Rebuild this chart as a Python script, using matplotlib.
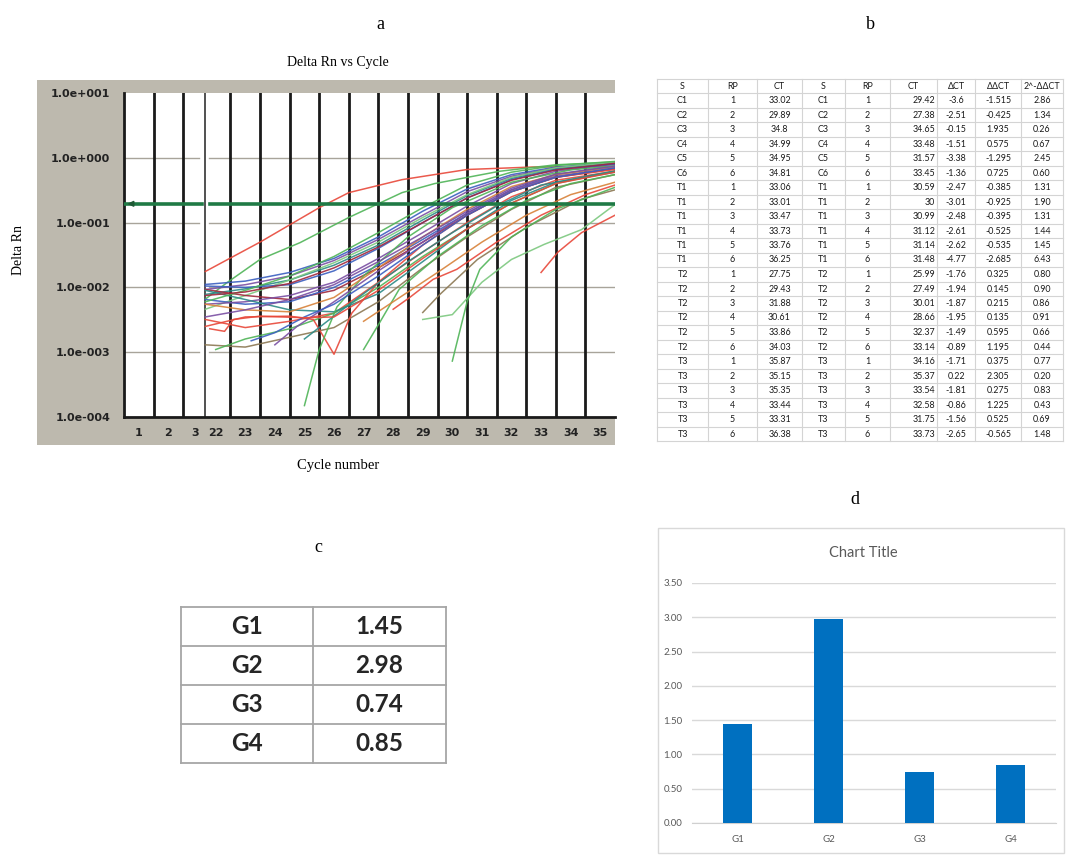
import matplotlib
matplotlib.use("Agg")
import matplotlib.pyplot as plt
from matplotlib.patches import Rectangle

W, H = 1068, 857

# ---------------- Panel a: amplification plot data ----------------
x_tick_labels = ['1', '2', '3', '22', '23', '24', '25', '26', '27', '28', '29',
                 '30', '31', '32', '33', '34', '35']
y_tick_values = [1e-4, 1e-3, 1e-2, 1e-1, 1e0, 1e1]
y_tick_labels = ['1.0e-004', '1.0e-003', '1.0e-002', '1.0e-001', '1.0e+000', '1.0e+001']
threshold = 0.195

std_cycles = [21.65, 23, 24.5, 26, 27.5, 29, 30.5, 32, 33.5, 35.5]

curve_cycles = [
    [21.65, 23.5, 25.5, 26.5, 28.3, 30.5, 32.7, 35.5],
    [21.65, 22.4, 23.5, 24.85, 26.5, 28.3, 29.4, 31.6, 33.5, 35.5],
    std_cycles, std_cycles, std_cycles, std_cycles, std_cycles, std_cycles,
    std_cycles, std_cycles, std_cycles,
    [22.0, 23, 24.5, 26, 27.5, 29, 30.5, 32, 33.5, 35.5],
    std_cycles,
    [21.65, 23, 24.5, 25.3, 26, 26.6, 27.5, 29, 30.5, 32, 33.5, 35.5],
    [25.0, 25.5, 26.1, 27, 28.5, 30, 32, 34, 35.5],
    [27.0, 27.55, 28.2, 29.5, 31, 32.5, 34, 35.5],
    [28.0, 28.56, 29.35, 30.15, 31.5, 33, 34.5, 35.5],
    [29.0, 29.58, 30.85, 32.55, 34.37, 35.5],
    [29.0, 30.0, 31.0, 32.0, 33.1, 34.37, 35.5],
    [30.0, 30.5, 30.93, 32, 33.5, 35.5],
    [33.0, 33.57, 34.37, 35.5],
    [24.0, 24.75, 26, 27.5, 29, 30.5, 32, 33.5, 35.5],
    [25.0, 25.85, 27, 28.5, 30, 31.5, 33, 35.5],
    std_cycles, std_cycles, std_cycles, std_cycles, std_cycles,
    [23.2, 24, 25, 26, 27.5, 29, 30.5, 32, 33.5, 35.5],
    [27, 28, 29.5, 31, 32.5, 34, 35.5],
    [21.8, 22.3, 22.6, 23.5, 25, 26, 27.5, 29, 30.5, 32, 33.5, 35.5],
]
curve_values = [
    [0.0176, 0.05, 0.17, 0.29, 0.46, 0.66, 0.72, 0.74],
    [0.0066, 0.012, 0.027, 0.049, 0.12, 0.29, 0.40, 0.62, 0.78, 0.86],
    [0.0111, 0.0125, 0.017, 0.028, 0.06, 0.15, 0.33, 0.55, 0.72, 0.84],
    [0.0093, 0.011, 0.015, 0.026, 0.055, 0.13, 0.30, 0.52, 0.70, 0.82],
    [0.0078, 0.0095, 0.013, 0.022, 0.045, 0.11, 0.26, 0.48, 0.68, 0.80],
    [0.0046, 0.0075, 0.013, 0.024, 0.05, 0.12, 0.27, 0.5, 0.7, 0.86],
    [0.0093, 0.0075, 0.0065, 0.009, 0.02, 0.05, 0.13, 0.3, 0.5, 0.68],
    [0.0065, 0.0055, 0.006, 0.01, 0.022, 0.055, 0.14, 0.32, 0.55, 0.75],
    [0.0055, 0.006, 0.0075, 0.012, 0.028, 0.07, 0.18, 0.4, 0.62, 0.8],
    [0.0032, 0.0024, 0.003, 0.004, 0.012, 0.035, 0.1, 0.25, 0.45, 0.62],
    [0.0013, 0.0012, 0.0017, 0.0024, 0.006, 0.02, 0.06, 0.16, 0.35, 0.55],
    [0.0011, 0.0016, 0.0023, 0.004, 0.01, 0.03, 0.08, 0.2, 0.4, 0.62],
    [0.009, 0.0065, 0.0045, 0.0042, 0.008, 0.025, 0.08, 0.22, 0.42, 0.63],
    [0.0025, 0.0035, 0.0036, 0.0032, 0.00093, 0.004, 0.012, 0.045, 0.13, 0.3, 0.5, 0.66],
    [0.00015, 0.0011, 0.005, 0.015, 0.06, 0.17, 0.42, 0.65, 0.75],
    [0.0011, 0.0029, 0.0093, 0.03, 0.09, 0.22, 0.4, 0.55],
    [0.0046, 0.007, 0.0133, 0.019, 0.05, 0.13, 0.27, 0.38],
    [0.0041, 0.0078, 0.027, 0.087, 0.23, 0.32],
    [0.0032, 0.0038, 0.012, 0.027, 0.046, 0.078, 0.19],
    [0.00073, 0.006, 0.019, 0.06, 0.16, 0.35],
    [0.017, 0.035, 0.07, 0.13],
    [0.0013, 0.0025, 0.006, 0.018, 0.05, 0.14, 0.32, 0.52, 0.7],
    [0.0016, 0.0032, 0.008, 0.025, 0.07, 0.18, 0.38, 0.6],
    [0.0055, 0.0045, 0.0042, 0.007, 0.02, 0.06, 0.16, 0.36, 0.55, 0.72],
    [0.0105, 0.01, 0.011, 0.018, 0.04, 0.1, 0.24, 0.46, 0.66, 0.8],
    [0.006, 0.009, 0.015, 0.03, 0.07, 0.17, 0.38, 0.6, 0.76, 0.88],
    [0.0075, 0.0085, 0.0115, 0.02, 0.042, 0.1, 0.24, 0.45, 0.65, 0.82],
    [0.0035, 0.0045, 0.0065, 0.011, 0.025, 0.06, 0.15, 0.34, 0.56, 0.74],
    [0.0015, 0.002, 0.0035, 0.0055, 0.015, 0.045, 0.13, 0.3, 0.5, 0.7],
    [0.003, 0.006, 0.017, 0.05, 0.13, 0.27, 0.42],
    [0.0023, 0.0021, 0.0032, 0.0036, 0.0034, 0.0035, 0.009, 0.028, 0.08, 0.2, 0.4, 0.6],
]
curve_color_keys = ['red', 'green', 'blue', 'purple', 'teal', 'lgreen', 'dred', 'blue',
                    'purple', 'red', 'brown', 'green', 'teal', 'red', 'green', 'green',
                    'red', 'brown', 'lgreen', 'green', 'red', 'purple', 'teal', 'orange',
                    'blue', 'green', 'dred', 'purple', 'blue', 'orange', 'red']
palette = {'red': '#e8483a', 'green': '#4fb457', 'lgreen': '#7cc87f', 'blue': '#3b5fc0',
           'purple': '#7a4fa3', 'teal': '#2c8a86', 'brown': '#8c7853', 'dred': '#a0283c',
           'orange': '#d8823a'}

# ---------------- Panel b: table data ----------------
tbl_header = ['S', 'RP', 'CT', 'S', 'RP', 'CT', 'ΔCT', 'ΔΔCT', '2^-ΔΔCT']
tbl_s = ['C1', 'C2', 'C3', 'C4', 'C5', 'C6'] + ['T1'] * 6 + ['T2'] * 6 + ['T3'] * 6
tbl_rp = [1, 2, 3, 4, 5, 6] * 4
ct1 = ['33.02', '29.89', '34.8', '34.99', '34.95', '34.81', '33.06', '33.01', '33.47',
       '33.73', '33.76', '36.25', '27.75', '29.43', '31.88', '30.61', '33.86', '34.03',
       '35.87', '35.15', '35.35', '33.44', '33.31', '36.38']
ct2 = ['29.42', '27.38', '34.65', '33.48', '31.57', '33.45', '30.59', '30', '30.99',
       '31.12', '31.14', '31.48', '25.99', '27.49', '30.01', '28.66', '32.37', '33.14',
       '34.16', '35.37', '33.54', '32.58', '31.75', '33.73']
dct = ['-3.6', '-2.51', '-0.15', '-1.51', '-3.38', '-1.36', '-2.47', '-3.01', '-2.48',
       '-2.61', '-2.62', '-4.77', '-1.76', '-1.94', '-1.87', '-1.95', '-1.49', '-0.89',
       '-1.71', '0.22', '-1.81', '-0.86', '-1.56', '-2.65']
ddct = ['-1.515', '-0.425', '1.935', '0.575', '-1.295', '0.725', '-0.385', '-0.925',
        '-0.395', '-0.525', '-0.535', '-2.685', '0.325', '0.145', '0.215', '0.135', '0.595',
        '1.195', '0.375', '2.305', '0.275', '1.225', '0.525', '-0.565']
fold = ['2.86', '1.34', '0.26', '0.67', '2.45', '0.60', '1.31', '1.90', '1.31', '1.44',
        '1.45', '6.43', '0.80', '0.90', '0.86', '0.91', '0.66', '0.44', '0.77', '0.20',
        '0.83', '0.43', '0.69', '1.48']

# ---------------- Panel c / d data ----------------
groups = ['G1', 'G2', 'G3', 'G4']
group_values = [1.45, 2.98, 0.74, 0.85]
group_value_labels = ['1.45', '2.98', '0.74', '0.85']
bar_yticks = [0, 0.5, 1.0, 1.5, 2.0, 2.5, 3.0, 3.5]

# ---------------- Figure ----------------
fig = plt.figure(figsize=(W / 100, H / 100), dpi=100)
lay = fig.add_axes([0, 0, 1, 1], zorder=0)
lay.set_xlim(0, W)
lay.set_ylim(H, 0)
lay.axis('off')

serif = 'Liberation Serif'
for txt, x, y in [('a', 380, 24), ('b', 870, 24), ('c', 318, 547), ('d', 855, 499)]:
    lay.text(x, y, txt, ha='center', va='center', fontsize=13, family=serif)

# --- panel a frame
lay.add_patch(Rectangle((37, 80), 578, 365, facecolor='#bdb9ae', edgecolor='none'))
lay.text(338, 62, 'Delta Rn vs Cycle', ha='center', va='center', fontsize=10, family=serif)
lay.text(338, 465, 'Cycle number', ha='center', va='center', fontsize=10.5, family=serif)
lay.text(19, 250, 'Delta Rn', ha='center', va='center', fontsize=10, family=serif,
         rotation=90)

ax = fig.add_axes([124 / W, 1 - 417 / H, 491 / W, 324 / H], zorder=1)
ax.set_facecolor('white')
ax.set_yscale('log')
ax.set_xlim(18.9, 35.5)
ax.set_ylim(1e-4, 10)
ax.set_yticks(y_tick_values, y_tick_labels)
ax.minorticks_off()
tick_pos = [19.4, 20.4, 21.3] + list(range(22, 36))
ax.set_xticks(tick_pos, x_tick_labels)
ax.tick_params(length=0, labelsize=8)
ax.tick_params(axis='y', pad=10)
ax.tick_params(axis='x', pad=8)
for lab in ax.get_xticklabels() + ax.get_yticklabels():
    lab.set_fontweight('bold')
    lab.set_color('#222222')
for s in ['top', 'right']:
    ax.spines[s].set_visible(False)
for s in ['left', 'bottom']:
    ax.spines[s].set_linewidth(2)
    ax.spines[s].set_color('#1a1a1a')

# gray decade lines with a gap at the axis break
for yv in y_tick_values[1:-1]:
    ax.plot([18.9, 21.42], [yv, yv], color='#a8a49a', lw=1.0, zorder=1)
    ax.plot([21.76, 35.5], [yv, yv], color='#a8a49a', lw=1.0, zorder=1)

for xv in [19.9, 20.9] + [c + 0.5 for c in range(22, 35)]:
    ax.axvline(xv, color='#1a1a1a', lw=2, zorder=2)
ax.axvline(21.64, color='#333333', lw=1.2, zorder=2)

for cyc, vals, key in zip(curve_cycles, curve_values, curve_color_keys):
    ax.plot(cyc, vals, color=palette[key], lw=1.1, alpha=0.9, zorder=3)

ax.plot([18.95, 21.55], [threshold, threshold], color='#1f7a45', lw=2.6, zorder=4)
ax.plot([21.8, 35.5], [threshold, threshold], color='#1f7a45', lw=2.6, zorder=4)
ax.annotate('', xy=(18.92, threshold), xytext=(19.3, threshold),
            arrowprops=dict(arrowstyle='-|>', color='#1f5a35', lw=1.2,
                            mutation_scale=8), zorder=5)

# --- panel b table
col_edges = [657, 708, 757, 802, 845, 890, 937, 975, 1021, 1063]
row_h = 14.5
top = 78.75
n_rows = len(ct1) + 1
grid_c = '#d4d4d4'
for xe in col_edges:
    lay.plot([xe, xe], [top, top + n_rows * row_h], color=grid_c, lw=0.8)
for r in range(n_rows + 1):
    lay.plot([col_edges[0], col_edges[-1]], [top + r * row_h] * 2, color=grid_c, lw=0.8)
centers = [(col_edges[i] + col_edges[i + 1]) / 2 for i in range(9)]
tfont = dict(fontsize=6.4, family='Lato', color='#1a1a1a', va='center')
for i, h in enumerate(tbl_header):
    lay.text(centers[i], top + row_h / 2, h, ha='center', **tfont)
for r in range(len(ct1)):
    y = top + (r + 1.5) * row_h
    row = [tbl_s[r], str(tbl_rp[r]), ct1[r], tbl_s[r], str(tbl_rp[r])]
    for i, v in enumerate(row):
        lay.text(centers[i], y, v, ha='center', **tfont)
    lay.text(col_edges[6] - 2, y, ct2[r], ha='right', **tfont)
    lay.text(centers[6], y, dct[r], ha='center', **tfont)
    lay.text(centers[7], y, ddct[r], ha='center', **tfont)
    lay.text(centers[8], y, fold[r], ha='center', **tfont)

# --- panel c table
cx0, cx1, cxm = 181, 446, 313
cy0, rh = 607, 39
for r in range(5):
    lay.plot([cx0, cx1], [cy0 + r * rh] * 2, color='#a6a6a6', lw=1.3)
for xe in [cx0, cxm, cx1]:
    lay.plot([xe, xe], [cy0, cy0 + 4 * rh], color='#a6a6a6', lw=1.3)
for r, (g, lbl) in enumerate(zip(groups, group_value_labels)):
    yc = cy0 + (r + 0.5) * rh
    lay.text((cx0 + cxm) / 2, yc, g, ha='center', va='center', fontsize=17.5,
             fontweight='bold', family='Lato', color='#262626')
    lay.text((cxm + cx1) / 2, yc, lbl, ha='center', va='center', fontsize=17.5,
             fontweight='bold', family='Lato', color='#262626')

# --- panel d chart
lay.add_patch(Rectangle((658, 528), 406, 325, facecolor='white', edgecolor='#d9d9d9', lw=1))
lay.text(863, 553, 'Chart Title', ha='center', va='center', fontsize=10.5,
         family='Lato', color='#595959')
bx = fig.add_axes([692 / W, 1 - 823 / H, 364 / W, 240 / H], zorder=1)
bx.bar(range(len(groups)), group_values, width=0.31, color='#0070c0', zorder=3)
bx.set_xlim(-0.5, 3.5)
bx.set_ylim(0, 3.5)
bx.set_yticks(bar_yticks, [f'{v:.2f}' for v in bar_yticks])
bx.set_xticks(range(len(groups)), groups)
bx.grid(axis='y', color='#d9d9d9', lw=1, zorder=0)
bx.tick_params(length=0, labelsize=7, colors='#595959')
bx.tick_params(axis='y', pad=7)
bx.tick_params(axis='x', pad=9)
for s in ['top', 'right', 'left']:
    bx.spines[s].set_visible(False)
bx.spines['bottom'].set_color('#d0d0d0')
for lab in bx.get_xticklabels() + bx.get_yticklabels():
    lab.set_family('Lato')

fig.savefig('out.png', dpi=100)
